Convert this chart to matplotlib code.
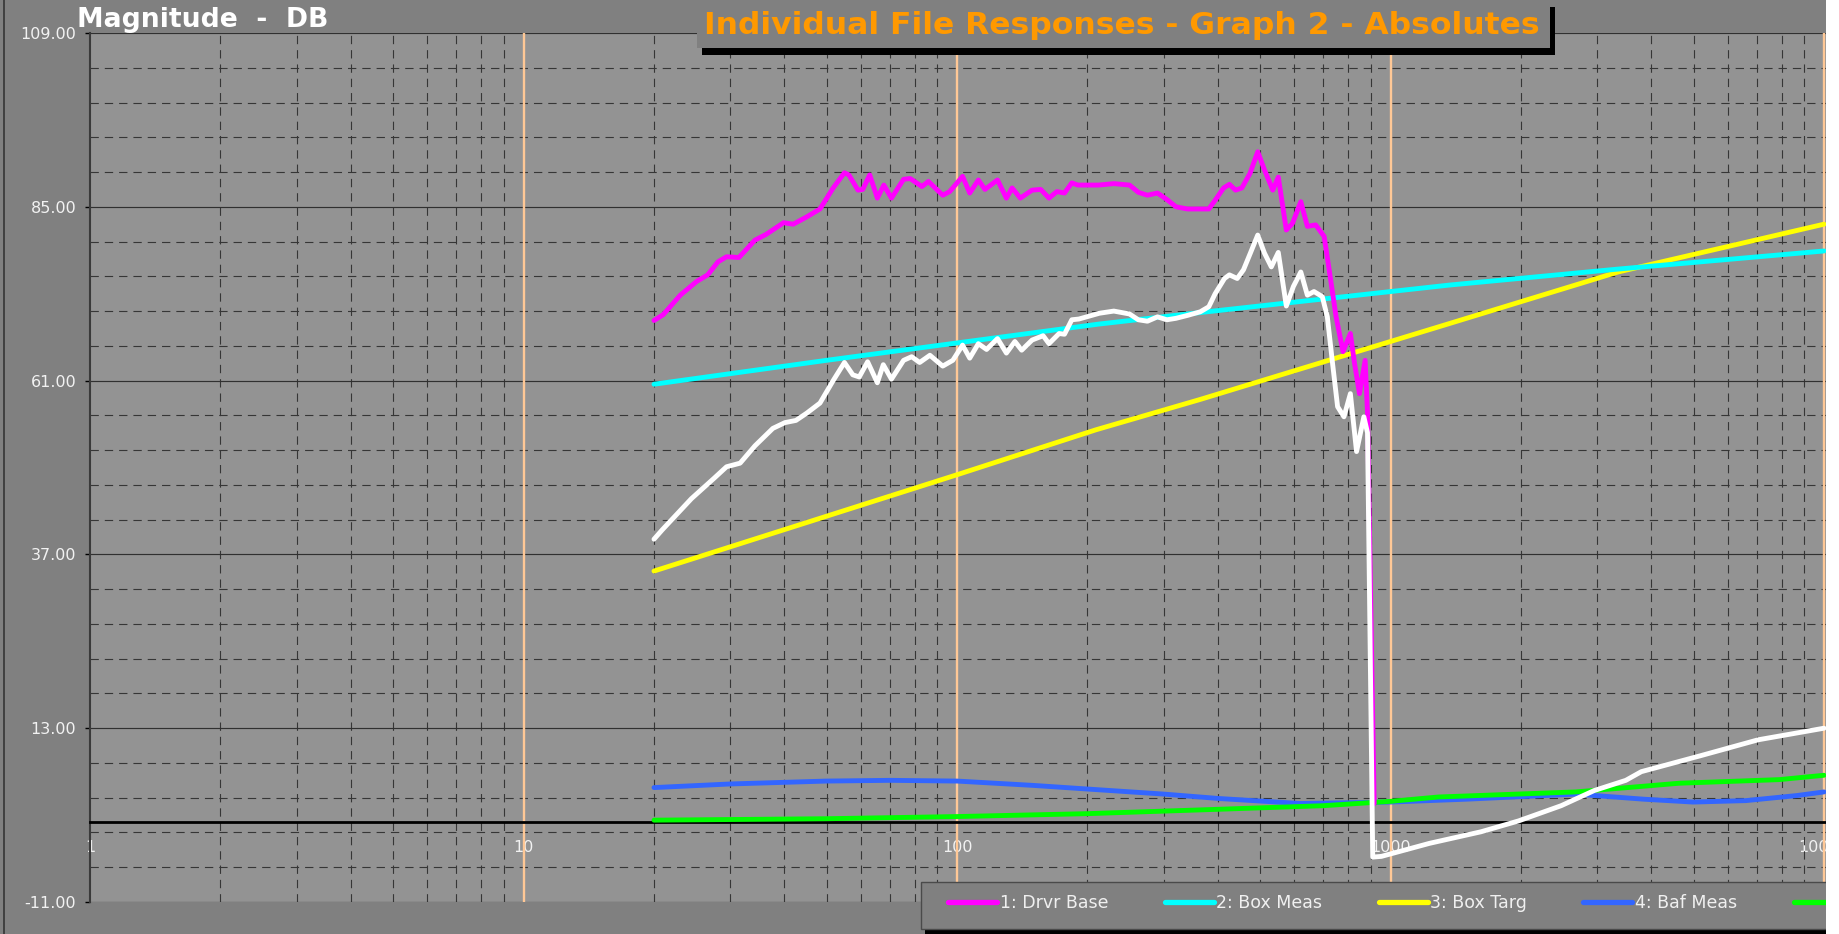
import numpy as np
import matplotlib
matplotlib.use("Agg")
import matplotlib.pyplot as plt
from matplotlib.ticker import FixedLocator, FixedFormatter, NullFormatter, LogLocator
from matplotlib.patches import Rectangle
from matplotlib.lines import Line2D

plt.rcParams['lines.scale_dashes'] = False
plt.rcParams['font.family'] = ['DejaVu Sans']

# ---------------- data ----------------
x_ticks = [1, 10, 100, 1000, 10000]
x_tick_labels = ["1", "10", "100", "1000", "10000"]
y_ticks = [-11, 13, 37, 61, 85, 109]
y_tick_labels = ["-11.00", "13.00", "37.00", "61.00", "85.00", "109.00"]

drvr_f = [20, 21, 23, 25.1, 26.6, 28.1, 29.4, 31.4, 34.2, 36.3, 39.8, 41.9, 45, 48.3, 51.8, 55, 56.3,
          59.1, 60.6, 62.9, 65.5, 67.8, 70.6, 75.3, 78, 83, 85.9, 92.7, 96.2, 103, 107, 112, 116, 124,
          130, 134, 140, 149, 156, 163, 170, 177, 184, 190, 212, 230, 250, 262, 275, 290, 305, 320,
          340, 364, 381, 394, 412, 425, 439, 454, 474, 494, 512, 535, 551, 575, 594, 621, 643, 672,
          703, 722, 749, 777, 808, 826, 848, 874, 885, 917]
drvr_v = [69.3, 70.1, 72.8, 74.7, 75.6, 77.4, 78.1, 78.0, 80.4, 81.2, 82.8, 82.6, 83.6, 84.7, 87.6, 89.7, 89.4,
          87.3, 87.4, 89.4, 86.2, 88.0, 86.2, 88.8, 88.9, 87.8, 88.5, 86.6, 87.1, 89.2, 86.9, 88.7, 87.4, 88.7,
          86.2, 87.6, 86.2, 87.3, 87.4, 86.2, 87.1, 86.9, 88.3, 88.0, 88.0, 88.2, 88.0, 87.0, 86.6, 86.9, 86.0, 85.0,
          84.7, 84.7, 84.7, 85.9, 87.6, 88.1, 87.3, 87.6, 89.6, 92.6, 90.1, 87.3, 89.1, 81.8, 82.7, 85.7, 82.3, 82.5,
          80.9, 76.3, 69.8, 65.0, 67.5, 63.4, 59.2, 63.8, 56.5, 2.6]

boxmeas_f = [20, 50, 100, 212, 364, 1371, 3350, 10000]
boxmeas_v = [60.5, 63.8, 66.2, 68.8, 70.4, 74.2, 76.4, 78.9]

boxtarg_f = [20, 100, 209, 364, 1371, 3350, 10000]
boxtarg_v = [34.7, 48.0, 54.2, 58.4, 68.9, 76.0, 82.6]

bafmeas_f = [20, 30, 50, 70, 100, 150, 200, 300, 400, 620, 1000, 1500, 2676, 3830, 4990, 6600, 8660, 10000]
bafmeas_v = [4.8, 5.3, 5.7, 5.8, 5.7, 5.1, 4.6, 3.9, 3.3, 2.6, 2.8, 3.2, 3.9, 3.2, 2.8, 3.0, 3.7, 4.2]

baftarg_f = [20, 50, 100, 200, 400, 700, 1000, 1290, 2676, 4630, 7890, 10000]
baftarg_v = [0.3, 0.5, 0.8, 1.2, 1.8, 2.3, 2.9, 3.5, 4.2, 5.4, 5.9, 6.5]

sum_f = [20, 20.9, 24.4, 27.5, 29.4, 31.6, 34.2, 37.6, 40.1, 42.5, 45, 48.3, 51.8, 55, 57.5, 59.5, 62.2,
         65.5, 67.6, 70.6, 75.3, 78.6, 82, 86.6, 92.7, 97.8, 103, 107, 112, 117, 124, 130, 136, 141, 149,
         158, 163, 172, 177, 184, 191, 213, 230, 250, 262, 275, 290, 305, 320, 340, 364, 381, 394, 414,
         425, 443, 458, 475, 494, 512, 531, 551, 575, 597, 621, 643, 666, 696, 715, 735, 755, 781, 808,
         835, 868, 885, 910, 953, 1230, 1618, 1975, 2476, 2953, 3490, 3790, 5190, 7050, 10000]
sum_v = [39.1, 40.4, 44.7, 47.5, 49.1, 49.6, 52.0, 54.4, 55.2, 55.5, 56.5, 57.9, 61.0, 63.5, 61.8, 61.5, 63.6,
         60.7, 63.2, 61.2, 63.8, 64.3, 63.5, 64.5, 63.0, 63.8, 65.9, 64.1, 66.1, 65.3, 66.8, 64.8, 66.4, 65.2, 66.6,
         67.2, 66.1, 67.5, 67.4, 69.4, 69.5, 70.3, 70.6, 70.2, 69.4, 69.2, 69.8, 69.4, 69.6, 70.0, 70.5, 71.2, 73.0, 75.1,
         75.6, 75.1, 76.3, 78.6, 81.1, 78.6, 76.7, 78.7, 71.3, 74.0, 76.0, 72.8, 73.3, 72.6, 69.8, 63.4, 57.4, 56.0, 59.2,
         51.2, 56.0, 53.8, -4.8, -4.7, -2.9, -1.3, 0.2, 2.3, 4.4, 5.8, 7.0, 9.2, 11.4, 13.0]

legend_labels = ["1: Drvr Base", "2: Box Meas", "3: Box Targ", "4: Baf Meas", "5: Baf Targ"]
title_left = "Magnitude  -  DB"
title_main = "Individual File Responses - Graph 2 - Absolutes"

# ---------------- figure ----------------
W, H = 1839, 934
FIG_BG = '#808080'
fig = plt.figure(figsize=(W / 100, H / 100), dpi=100, facecolor=FIG_BG)


def fx(px):
    return px / W


def fy(py):  # py measured from the top
    return 1 - py / H


AX_L, AX_R, AX_T, AX_B = 90, 1826, 33, 902
DEC = 433.5
ax = fig.add_axes([fx(AX_L), fy(AX_B), fx(AX_R) - fx(AX_L), fy(AX_T) - fy(AX_B)])
ax.set_facecolor('#939393')
ax.set_xscale('log')
ax.set_xlim(1, 10 ** ((AX_R - AX_L) / DEC))
ax.set_ylim(-11, 109)

# spines
for s in ('top', 'right'):
    ax.spines[s].set_visible(False)
ax.spines['left'].set_color('#3a3a3a')
ax.spines['left'].set_linewidth(1.5)
ax.spines['bottom'].set_position(('data', 0))
ax.spines['bottom'].set_color('black')
ax.spines['bottom'].set_linewidth(2.0)

# ticks
ax.xaxis.set_major_locator(FixedLocator(x_ticks))
ax.xaxis.set_major_formatter(FixedFormatter(x_tick_labels))
ax.xaxis.set_minor_locator(LogLocator(base=10, subs=np.arange(2, 10)))
ax.xaxis.set_minor_formatter(NullFormatter())
ax.yaxis.set_major_locator(FixedLocator(y_ticks))
ax.yaxis.set_major_formatter(FixedFormatter(y_tick_labels))
y_minor = [v for v in np.round(np.arange(-11, 109.01, 4.8), 2) if all(abs(v - m) > 0.01 for m in y_ticks)]
ax.yaxis.set_minor_locator(FixedLocator(y_minor))

ax.tick_params(axis='x', which='major', direction='out', length=3.6, width=1.2, color='black',
               labelsize=11.5, labelcolor='#f2f2f2', pad=9.0)
ax.tick_params(axis='y', which='major', direction='out', length=3.4, width=1.0, color='black',
               labelsize=11.5, labelcolor='#f2f2f2', pad=6.5)
ax.tick_params(which='minor', length=0)

# grid
ax.set_axisbelow(True)
dash = (0, (6.0, 4.3))
ax.xaxis.grid(True, which='minor', color='#363636', lw=0.8, linestyle=dash)
ax.yaxis.grid(True, which='minor', color='#363636', lw=0.8, linestyle=dash)
ax.yaxis.grid(True, which='major', color='#303030', lw=0.85, linestyle='-')
ax.xaxis.grid(False, which='major')
for t in x_ticks[1:]:
    ax.axvline(t, color='#FFC896', lw=1.7, zorder=1.2)

# series
kw = dict(lw=3.5, solid_capstyle='round', solid_joinstyle='round')
h4, = ax.plot(bafmeas_f, bafmeas_v, color='#3366FF', zorder=3.0, **kw)
h5, = ax.plot(baftarg_f, baftarg_v, color='#00FF00', zorder=3.1, **kw)
h3, = ax.plot(boxtarg_f, boxtarg_v, color='#FFFF00', zorder=3.2, **kw)
h2, = ax.plot(boxmeas_f, boxmeas_v, color='#00FFFF', zorder=3.3, **kw)
h1, = ax.plot(drvr_f, drvr_v, color='#FF00FF', zorder=3.4, **kw)
h6, = ax.plot(sum_f, sum_v, color='#FFFFFF', zorder=3.5, **kw)

# left border line of the frame
fig.add_artist(Line2D([fx(3.5), fx(3.5)], [0, 1], transform=fig.transFigure, color='#2e2e2e', lw=1.1, zorder=2))

# title box (top)
fig.add_artist(Rectangle((fx(702), fy(55)), fx(1555) - fx(702), 48 / H, transform=fig.transFigure,
                         facecolor='black', edgecolor='none', zorder=5))
fig.add_artist(Rectangle((fx(697), fy(48)), fx(1550) - fx(697), 48 / H + 0.01, transform=fig.transFigure,
                         facecolor=FIG_BG, edgecolor='none', zorder=5.5))
t_main = fig.text(fx(704), fy(34), title_main, color='#FF9900', fontsize=22.5, fontweight='bold',
                  ha='left', va='baseline', zorder=7)
t_left = fig.text(fx(77), fy(27), title_left, color='white', fontsize=19, fontweight='bold',
                  ha='left', va='baseline', zorder=7)

# legend box (bottom)
fig.add_artist(Rectangle((fx(925), fy(934)), fx(1839) - fx(925), 48 / H, transform=fig.transFigure,
                         facecolor='black', edgecolor='none', zorder=5))
fig.add_artist(Rectangle((fx(921), fy(929)), fx(1845) - fx(921), 47 / H, transform=fig.transFigure,
                         facecolor=FIG_BG, edgecolor='#4a4a4a', lw=1.0, zorder=5.5))
fs = 12.5
em = fs * 100 / 72
leg = fig.legend(handles=[h1, h2, h3, h4, h5], labels=legend_labels, loc='center left',
                 bbox_to_anchor=(fx(948), fy(903)), ncol=5, frameon=False, fontsize=fs,
                 handlelength=49 / em, handletextpad=3 / em, columnspacing=56 / em,
                 borderpad=0, borderaxespad=0, labelcolor='#f0f0f0')
leg.set_zorder(6)
for ln in leg.get_lines():
    ln.set_linewidth(3.8)
    ln.set_solid_capstyle('round')

# white strip at the right edge
fig.add_artist(Rectangle((fx(1826), 0), fx(1839) - fx(1826) + 0.01, 1, transform=fig.transFigure,
                         facecolor='white', edgecolor='none', zorder=20))

# fit title widths to the reference
fig.canvas.draw()
r = fig.canvas.get_renderer()
for t, target in [(t_left, 251), (t_main, 836)]:
    w = t.get_window_extent(r).width
    t.set_fontsize(t.get_fontsize() * target / w)

fig.savefig('out.png', dpi=100, facecolor=FIG_BG)
